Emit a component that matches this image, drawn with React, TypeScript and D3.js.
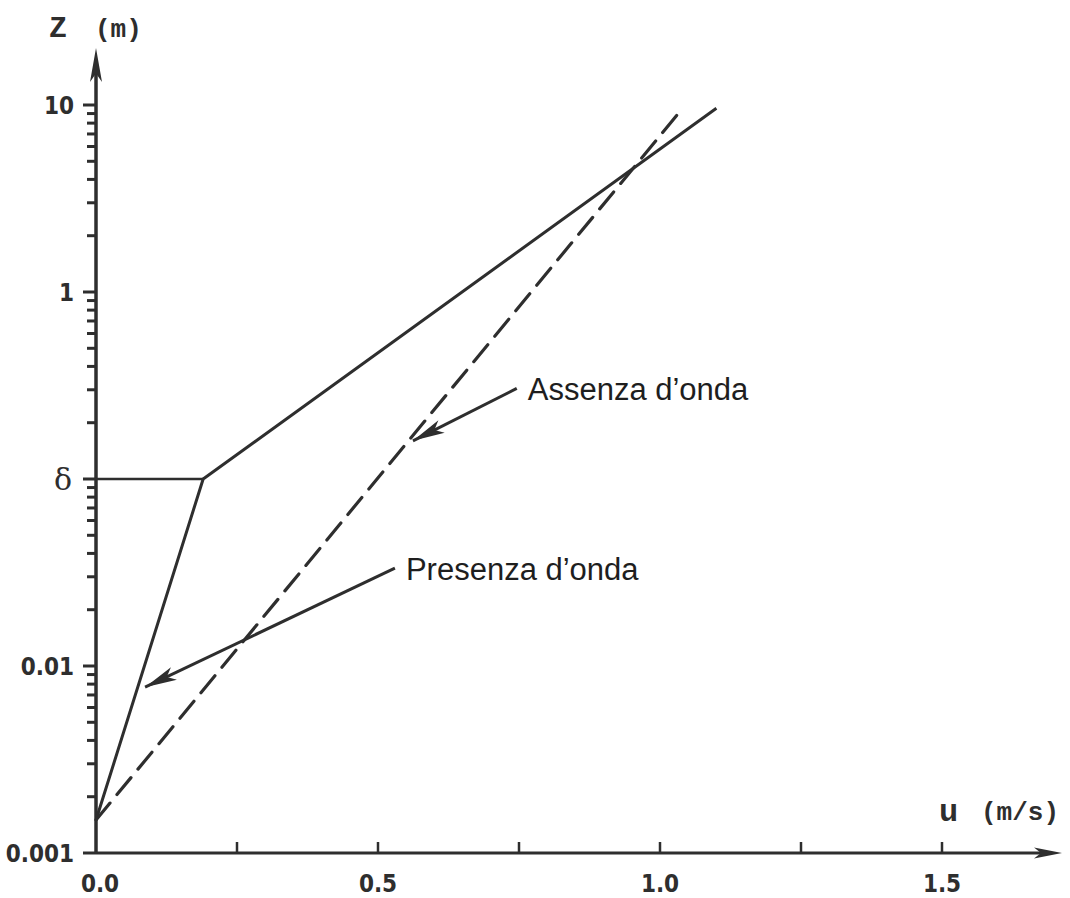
import React from "react";
import * as d3 from "d3";

// velocity profile, u (m/s) vs z (m)
const presenzaU = [0, 0.19, 1.1];
const presenzaZ = [0.0015, 0.1, 9.6];
const assenzaU = [0, 1.04];
const assenzaZ = [0.0015, 9.6];

const xTicks = [0.25, 0.5, 0.75, 1.0, 1.25, 1.5];
const xLabels = [0, 0.5, 1.0, 1.5];
const decades = [0.001, 0.01, 0.1, 1];
const yLabels = [
  { v: 10, t: "10" },
  { v: 1, t: "1" },
  { v: 0.1, t: "δ" },
  { v: 0.01, t: "0.01" },
  { v: 0.001, t: "0.001" },
];

// annotations: tail and tip in (u, z)
const notes = [
  { text: "Assenza d’onda", tail: [0.746, 0.305], tip: [0.562, 0.16] },
  { text: "Presenza d’onda", tail: [0.53, 0.0334], tip: [0.087, 0.0077] },
];

const INK = "#2e2e2e";

const App = () => {
  const width = 1070;
  const height = 898;

  const x = d3.scaleLinear().domain([0, 1.5]).range([96, 942]);
  const y = d3.scaleLog().domain([0.001, 10]).range([853, 105]);

  const line = d3
    .line<[number, number]>()
    .x((d) => x(d[0]))
    .y((d) => y(d[1]));

  const presenza = presenzaU.map((u, i) => [u, presenzaZ[i]] as [number, number]);
  const assenza = assenzaU.map((u, i) => [u, assenzaZ[i]] as [number, number]);

  // minor/major ticks on the log axis
  const yTicks: { v: number; major: boolean }[] = [];
  decades.forEach((d) => {
    for (let k = 1; k <= 9; k++) yTicks.push({ v: d * k, major: k === 1 });
  });
  yTicks.push({ v: 10, major: true });

  const arrowHead = (x0, y0, x1, y1, len, half) => {
    const a = Math.atan2(y1 - y0, x1 - x0);
    const bx = x1 - len * Math.cos(a);
    const by = y1 - len * Math.sin(a);
    const px = -Math.sin(a) * half;
    const py = Math.cos(a) * half;
    return `M${x1},${y1}L${bx + px},${by + py}L${bx + len * 0.25 * Math.cos(a)},${by + len * 0.25 * Math.sin(a)}L${bx - px},${by - py}Z`;
  };

  const x0 = x(0);
  const yBase = y(0.001);
  const xEnd = 1062;
  const yTop = 48;

  const numFont = "'DejaVu Sans Condensed', 'DejaVu Sans', sans-serif";
  const labFont = "'Liberation Mono', 'Courier New', monospace";

  return (
    <div style={{ position: "absolute", left: 0, top: 0 }}>
      <svg width={width} height={height} style={{ display: "block", background: "#fff" }}>
        {/* axes */}
        <line x1={x0} x2={xEnd - 20} y1={yBase} y2={yBase} stroke={INK} strokeWidth={3} />
        <line x1={x0} x2={x0} y1={yBase + 1} y2={yTop + 20} stroke={INK} strokeWidth={3.5} />
        <path d={arrowHead(x0, yBase, xEnd, yBase, 28, 5.5)} fill={INK} />
        <path d={arrowHead(x0, yBase, x0, yTop, 34, 6)} fill={INK} />

        {yTicks.map((t, i) => (
          <line
            key={"yt" + i}
            x1={x0 - (t.major ? 13 : 9)}
            x2={x0}
            y1={y(t.v)}
            y2={y(t.v)}
            stroke={INK}
            strokeWidth={3}
          />
        ))}
        {xTicks.map((t, i) => (
          <line key={"xt" + i} x1={x(t)} x2={x(t)} y1={yBase} y2={yBase - 11} stroke={INK} strokeWidth={2.5} />
        ))}

        {yLabels.map((l, i) => (
          <text
            key={"yl" + i}
            x={l.t === "δ" ? 72 : 74}
            y={y(l.v)}
            dy="0.36em"
            textAnchor="end"
            fontFamily={l.t === "δ" ? "'DejaVu Serif', serif" : numFont}
            fontWeight={l.t === "δ" ? "normal" : "bold"}
            fontSize={l.t === "δ" ? 30 : 24}
            fill={INK}
          >
            {l.t}
          </text>
        ))}
        {xLabels.map((v, i) => (
          <text
            key={"xl" + i}
            x={x(v) + (v === 0 ? 4 : 0)}
            y={883}
            dy="0.36em"
            textAnchor="middle"
            fontFamily={numFont}
            fontWeight="bold"
            fontSize={24}
            fill={INK}
          >
            {d3.format(".1f")(v)}
          </text>
        ))}

        {/* axis titles */}
        <text x={49} y={37} fontFamily={labFont} fontWeight="bold" fontSize={30} fill={INK}>
          Z
        </text>
        <text x={95} y={37} fontFamily={labFont} fontWeight="bold" fontSize={26} fill={INK}>
          (m)
        </text>
        <text x={939} y={821} fontFamily={labFont} fontWeight="bold" fontSize={32} fill={INK}>
          u
        </text>
        <text x={981} y={820} fontFamily={labFont} fontWeight="bold" fontSize={26} fill={INK}>
          (m/s)
        </text>

        {/* δ level */}
        <line x1={x0} x2={x(0.19)} y1={y(0.1)} y2={y(0.1)} stroke={INK} strokeWidth={2.5} />

        {/* profiles */}
        <path d={line(presenza) ?? ""} fill="none" stroke={INK} strokeWidth={3} strokeLinejoin="round" />
        <path
          d={line(assenza) ?? ""}
          fill="none"
          stroke={INK}
          strokeWidth={3.2}
          strokeDasharray="22 11"
          strokeLinecap="round"
        />

        {/* annotations */}
        {notes.map((n, i) => {
          const tx = x(n.tail[0]);
          const ty = y(n.tail[1]);
          const hx = x(n.tip[0]);
          const hy = y(n.tip[1]);
          return (
            <g key={"n" + i}>
              <line x1={tx} y1={ty} x2={hx} y2={hy} stroke={INK} strokeWidth={3} />
              <path d={arrowHead(tx, ty, hx, hy, 32, 7)} fill={INK} />
              <text
                x={tx + 11}
                y={ty + 12}
                fontFamily="'Liberation Sans', Arial, sans-serif"
                fontSize={31}
                fill="#1e1e1e"
              >
                {n.text}
              </text>
            </g>
          );
        })}
      </svg>
    </div>
  );
};

export default App;
